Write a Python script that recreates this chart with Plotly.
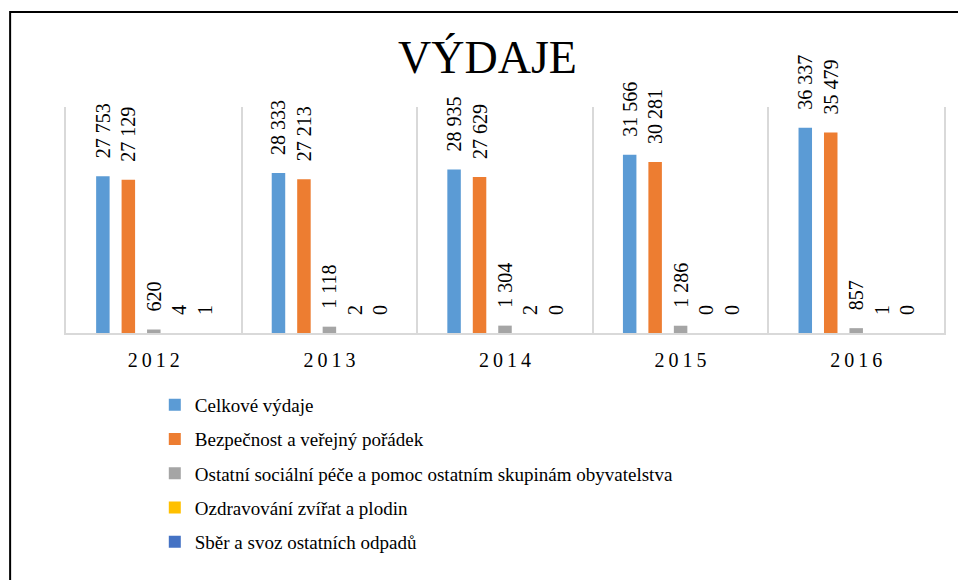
import plotly.graph_objects as go

years = ["2012", "2013", "2014", "2015", "2016"]
year_labels = ["2\u20090\u20091\u20092", "2\u20090\u20091\u20093", "2\u20090\u20091\u20094",
               "2\u20090\u20091\u20095", "2\u20090\u20091\u20096"]
series_names = [
    "Celkové výdaje",
    "Bezpečnost a veřejný pořádek",
    "Ostatní sociální péče a pomoc ostatním skupinám obyvatelstva",
    "Ozdravování zvířat a plodin",
    "Sběr a svoz ostatních odpadů",
]
celkove = [27753, 28333, 28935, 31566, 36337]
bezpecnost = [27129, 27213, 27629, 30281, 35479]
ostatni = [620, 1118, 1304, 1286, 857]
ozdravovani = [4, 2, 2, 0, 1]
sber = [1, 0, 0, 0, 0]
colors = ["#5B9BD5", "#ED7D31", "#A5A5A5", "#FFC000", "#4472C4"]

FONT = "Liberation Serif"
fig = go.Figure()
for i, (name, vals) in enumerate(zip(series_names, [celkove, bezpecnost, ostatni, ozdravovani, sber])):
    fig.add_trace(go.Bar(
        x=years, y=vals, name=name, marker_color=colors[i], marker_line_width=0,
        text=vals, texttemplate="\u00a0\u00a0\u00a0%{y:,}", textposition="outside",
        textangle=-90, constraintext="none", cliponaxis=False,
        textfont=dict(family=FONT, size=20, color="#000000"),
        legendgroup=str(i),
    ))

fig.update_layout(
    width=958, height=580,
    margin=dict(l=66, r=12, t=107, b=247),
    paper_bgcolor="white", plot_bgcolor="white",
    barmode="group", bargap=0.275, bargroupgap=0.47,
    separators=", ",
    font=dict(family=FONT, color="#000000"),
    title=dict(text="VÝDAJE", x=487.5/958, xanchor="center", y=1 - 57/580, yanchor="middle",
               font=dict(family=FONT, size=46, color="#000000")),
    showlegend=True,
    legend=dict(orientation="v", x=(155 - 66) / 880, xanchor="left", y=(333 - 386) / 226, yanchor="top",
                font=dict(family=FONT, size=19, color="#000000"), tracegroupgap=6.5,
                itemclick=False, bgcolor="rgba(0,0,0,0)"),
    xaxis=dict(type="category", tickmode="array", tickvals=years, ticktext=year_labels,
               tickson="boundaries", showgrid=True, gridcolor="#D9D9D9", gridwidth=2,
               showline=True, linecolor="#D9D9D9", linewidth=2, ticks="",
               ticklabelstandoff=8,
               tickfont=dict(family=FONT, size=20, color="#000000")),
    yaxis=dict(range=[0, 40000], showgrid=False, showticklabels=False, zeroline=False,
               showline=True, linecolor="#D9D9D9", linewidth=2, mirror=True, ticks=""),
    shapes=[dict(type="rect", xref="paper", yref="paper",
                 x0=(10 - 66) / 880, x1=(962 - 66) / 880,
                 y0=(333 - 585) / 226, y1=(333 - 12) / 226,
                 line=dict(color="#000000", width=2), fillcolor="rgba(0,0,0,0)", layer="below")],
)

fig.write_html("out.html", config={"staticPlot": True, "displayModeBar": False},
               post_script="document.body.style.margin='0';")
